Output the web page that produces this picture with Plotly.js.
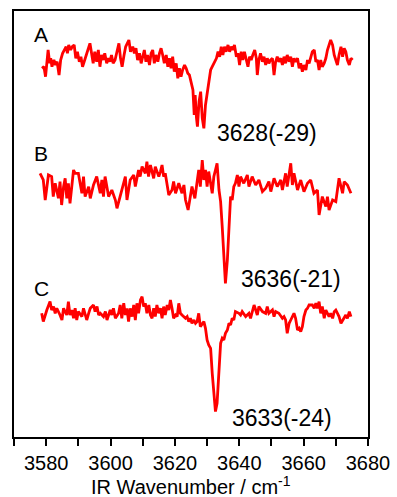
<!DOCTYPE html>
<html>
<head>
<meta charset="utf-8">
<script src="https://cdn.plot.ly/plotly-3.0.1.min.js"></script>
<style>html,body{margin:0;padding:0;background:#fff;}#chart{width:397px;height:497px;}</style>
</head>
<body>
<div id="chart"></div>
<script>
// Spectrum A (wavenumber / cm-1, relative intensity)
const wnA = [3578.7,3579.3,3579.8,3580.3,3580.6,3581.1,3581.4,3581.8,3582.4,3582.9,3583.4,3584.0,3584.5,3585.1,3585.6,3586.2,3586.6,3587.0,3587.6,3588.1,3588.7,3589.2,3589.7,3590.3,3590.8,3591.3,3591.8,3592.3,3593.1,3593.6,3594.1,3594.6,3595.1,3595.7,3596.2,3596.7,3597.2,3597.7,3598.2,3598.8,3599.3,3599.8,3600.3,3600.8,3601.4,3602.1,3602.6,3603.1,3603.6,3604.2,3604.7,3605.2,3605.7,3606.2,3606.9,3607.4,3607.9,3608.4,3609.0,3609.5,3610.0,3610.5,3611.0,3611.5,3612.1,3612.6,3613.1,3613.6,3614.1,3614.7,3615.2,3615.7,3616.2,3616.7,3617.3,3617.8,3618.3,3618.8,3619.3,3619.8,3620.4,3620.9,3621.4,3621.9,3622.4,3623.0,3623.5,3624.0,3624.5,3625.0,3625.6,3626.0,3626.3,3626.7,3627.0,3627.5,3628.0,3628.5,3629.0,3629.5,3630.0,3630.5,3631.1,3631.6,3632.4,3632.9,3633.4,3633.9,3634.4,3634.9,3635.4,3635.9,3636.5,3637.0,3637.5,3638.0,3638.5,3639.1,3639.6,3640.1,3640.6,3641.1,3641.6,3642.2,3642.7,3643.2,3643.7,3644.2,3644.8,3645.3,3645.6,3646.1,3646.6,3647.2,3647.7,3648.2,3648.7,3649.2,3649.7,3650.3,3650.8,3651.3,3651.8,3652.3,3652.9,3653.4,3653.9,3654.4,3654.9,3655.5,3656.0,3656.5,3657.0,3657.5,3658.1,3658.6,3659.1,3659.6,3660.1,3660.7,3661.2,3661.7,3662.2,3662.7,3663.3,3663.8,3664.3,3664.8,3665.3,3665.8,3666.4,3666.9,3667.4,3667.9,3668.4,3669.0,3669.5,3670.0,3670.5,3671.0,3671.6,3672.1,3672.6,3673.1,3673.6,3674.2,3674.7,3675.2];
const intA = [-8.3,-6.7,-16.7,6.7,10,-3.3,1.7,-6.7,0,-5,-1.7,-15,0,6.7,10,13.3,6.7,15,10,13.3,15,1.7,8.3,-1.7,3.3,-6.7,-1.7,3.3,10,16.7,6.7,-3.3,8.3,-1.7,10,-6.7,5,0,6.7,-3.3,1.7,-1.7,5,-3.3,0,10,16.7,1.7,-6.7,5,13.3,16.7,20,8.3,13.3,6.7,11.7,0,6.7,-3.3,5,10,-1.7,5,-5,6.7,10,-3.3,5,-1.7,6.7,11.7,5,-3.3,5,-6.7,1.7,-8.3,3.3,-11.7,-3.3,-18.3,-8.3,-16.7,-10,-5,-8.3,-13.3,-15,-21.7,-30,-55,-35,-58,-66.7,-41.7,-31.7,-58,-68.3,-45,-35,-23.3,-10,-6.7,-1.7,1.7,8.3,3.3,13.3,5,13.3,8.3,15,8.3,13.3,10,15,3.3,6.7,-5,8.3,0,8.3,0,-6.7,3.3,0,5,10,1.7,-15,0,6.7,-1.7,3.3,-5,1.7,-3.3,0,1.7,-15,-1.7,3.3,-1.7,1.7,-5,3.3,-3.3,5,-1.7,3.3,-6.7,1.7,-1.7,1.7,-8.3,-3.3,-11.7,-5,-10,0,-3.3,1.7,8.3,10,-1.7,0,-10,0,-6.7,-3.3,1.7,10,15,20,15,5,0,-5,5,13.3,3.3,11.7,8.3,0,-5,1.7,0];

// Spectrum B
const wnB = [3578.1,3579.1,3579.7,3580.7,3581.7,3582.2,3582.8,3583.8,3584.3,3584.8,3585.4,3585.9,3586.4,3586.9,3587.4,3588.0,3588.5,3589.0,3590.0,3591.1,3591.6,3592.1,3593.2,3593.7,3594.7,3595.7,3596.8,3597.3,3597.8,3598.3,3599.4,3600.4,3601.5,3602.0,3603.0,3604.1,3604.6,3605.1,3606.1,3607.2,3607.7,3608.7,3609.2,3609.8,3610.8,3611.3,3611.8,3612.4,3613.4,3613.9,3615.0,3615.5,3616.0,3616.5,3617.0,3618.1,3619.1,3619.6,3620.2,3621.2,3622.2,3622.8,3623.3,3624.1,3624.8,3625.3,3626.2,3626.9,3627.4,3627.9,3628.5,3629.0,3629.5,3630.0,3630.5,3631.6,3632.1,3632.6,3633.1,3633.7,3634.2,3634.7,3635.2,3635.7,3636.3,3636.8,3637.3,3637.8,3638.3,3638.8,3639.4,3639.9,3640.4,3641.4,3642.5,3643.0,3644.0,3645.1,3646.1,3647.2,3648.2,3649.2,3649.8,3650.8,3651.8,3652.9,3653.4,3654.4,3654.9,3656.0,3656.5,3657.0,3658.1,3659.1,3660.1,3661.2,3662.2,3663.2,3664.3,3664.8,3665.8,3666.9,3667.4,3667.9,3669.0,3670.0,3670.5,3671.0,3672.1,3672.6,3673.6,3674.7];
const intB = [15,8.3,-11.7,13.3,11.7,-8.3,5,-10,6.7,-16.7,1.7,10,-10,5,-15,1.7,18.3,15,15,-5,11.7,-8.3,1.7,-10,3.3,11.7,-5,8.3,-8.3,11.7,-8.3,-1.7,-11.7,-20,-8.3,3.3,11.7,-11.7,8.3,13.3,1.7,18.3,11.7,21.7,15,26.7,11.7,23.3,10,21.7,11.7,16.7,23.3,11.7,15,-6.7,-1.7,6.7,-5,5,-5,3.3,-11.7,-21.7,-5,1.7,-10,10,18.3,1.7,28.3,8.3,18.3,1.7,16.7,-5,11.7,18.3,25,-1.7,-13.3,-38.3,-71.7,-95,-71.7,-31.7,-8.3,-11.7,1.7,5,13.3,1.7,11.7,5,13.3,1.7,11.7,3.3,8.3,-3.3,0,6.7,-3.3,10,1.7,8.3,-1.7,15,1.7,25,3.3,15,-1.7,8.3,-3.3,5,8.3,-5,-1.7,-26.7,-8.3,-18.3,-8.3,-21.7,-11.7,-13.3,-1.7,10,-5,6.7,3.3,-5];

// Spectrum C
const wnC = [3578.6,3579.1,3580.2,3581.2,3581.7,3582.3,3582.8,3583.3,3584.3,3584.9,3585.4,3586.4,3586.9,3587.4,3588.0,3588.5,3589.0,3589.5,3590.0,3591.1,3591.6,3592.6,3593.2,3593.7,3594.7,3595.2,3595.8,3596.3,3596.8,3597.8,3598.4,3598.9,3599.9,3600.4,3600.9,3601.5,3602.5,3603.0,3603.5,3604.1,3604.6,3605.1,3605.6,3606.1,3606.7,3607.2,3607.7,3608.2,3608.7,3609.3,3609.8,3610.3,3610.8,3611.3,3611.9,3612.4,3612.9,3613.4,3613.9,3614.4,3615.0,3615.5,3616.0,3616.5,3617.0,3617.6,3618.1,3618.6,3619.1,3619.6,3620.2,3620.7,3621.2,3621.7,3622.2,3623.3,3623.8,3624.3,3624.8,3625.3,3625.9,3626.4,3626.9,3627.4,3627.9,3628.5,3629.0,3629.5,3630.0,3630.5,3631.1,3631.6,3632.1,3632.6,3633.1,3633.7,3634.2,3634.7,3635.2,3635.7,3636.3,3636.8,3637.3,3637.8,3638.3,3638.8,3639.9,3640.4,3640.9,3642.0,3643.0,3643.5,3644.6,3645.1,3645.6,3646.1,3647.2,3648.2,3648.7,3649.2,3650.3,3650.8,3651.3,3652.3,3653.4,3653.9,3654.4,3654.9,3655.5,3656.0,3656.5,3657.0,3657.5,3658.1,3658.6,3659.1,3659.6,3660.1,3660.7,3661.2,3661.7,3662.7,3663.3,3663.8,3664.3,3664.8,3665.3,3665.8,3666.4,3666.9,3667.9,3668.4,3669.0,3669.5,3670.0,3670.5,3671.0,3671.6,3672.1,3672.6,3673.1,3673.6,3674.2,3674.7];
const intC = [0,-8.3,3.3,11.7,3.3,6.7,0,5,-1.7,-6.7,5,-1.7,11.7,-1.7,3.3,-5,5,-6.7,1.7,-3.3,5,-6.7,0,5,8.3,1.7,6.7,-1.7,0,-3.3,1.7,-6.7,3.3,-1.7,5,-5,0,8.3,-5,10,-1.7,5,-8.3,5,-3.3,8.3,-6.7,10,0,13.3,16.7,6.7,10,0,8.3,-1.7,-5,5,-3.3,8.3,0,5,-5,6.7,-1.7,8.3,3.3,13.3,5,-5,-1.7,-3.3,10,0,-1.7,-5,-3.3,-8.3,-5,-10,-6.7,-10,-8.3,0,-13.3,-10,-8.3,-15,-26.7,-31.7,-35,-60,-83.3,-98.3,-90,-60,-30,-25,-26.7,-20,-16.7,-10,-11.7,-5,-6.7,1.7,0,-1.7,1.7,-3.3,0,-5,8.3,3.3,-1.7,6.7,1.7,0,6.7,0,3.3,-3.3,1.7,0,-5,-3.3,-6.7,-20,-10,-6.7,-3.3,0,-5,-16.7,-15,-18.3,-13.3,-3.3,3.3,5,8.3,8.3,5,10,5,11.7,0,6.7,-5,3.3,-3.3,0,-5,1.7,3.3,0,-3.3,-10,-6.7,-3.3,-1.7,-5,1.7,-3.3];

const offsets = [377, 248.7, 123.7];
const traceLetters = ['A', 'B', 'C'];
const peakLabels = ['3628(-29)', '3636(-21)', '3633(-24)'];
const tickVals = [3570,3580,3590,3600,3610,3620,3630,3640,3650,3660,3670,3680];
const tickText = ['','3580','','3600','','3620','','3640','','3660','','3680'];
const xTitle = 'IR Wavenumber / cm<sup>-1</sup>';

const series = [[wnA, intA], [wnB, intB], [wnC, intC]];
const traces = series.map(function (s, i) {
  return {
    x: s[0],
    y: s[1].map(function (v) { return v + offsets[i]; }),
    type: 'scatter', mode: 'lines',
    line: {color: '#ff0000', width: 2.8},
    hoverinfo: 'skip', showlegend: false
  };
});

const font = 'Liberation Sans, Arial, Helvetica, sans-serif';
const letterPos = [[0.051, 0.945], [0.051, 0.6655], [0.051, 0.3486]];
const peakPos = [[3632.6, 304.5], [3639.8, 158], [3637.0, 19.5]];
const annotations = [];
traceLetters.forEach(function (t, i) {
  annotations.push({text: t, xref: 'paper', yref: 'paper', x: letterPos[i][0], y: letterPos[i][1],
    xanchor: 'left', yanchor: 'middle', showarrow: false, font: {family: font, size: 21, color: '#000'}});
});
peakLabels.forEach(function (t, i) {
  annotations.push({text: t, xref: 'x', yref: 'y', x: peakPos[i][0], y: peakPos[i][1],
    xanchor: 'left', yanchor: 'middle', showarrow: false, font: {family: font, size: 23, color: '#000'}});
});
annotations.push({text: xTitle, xref: 'paper', yref: 'paper', x: 0.5, y: -0.115,
  xanchor: 'center', yanchor: 'middle', showarrow: false, borderpad: 0,
  font: {family: font, size: 20, color: '#000'}});

const layout = {
  width: 397, height: 497,
  margin: {l: 14, r: 29, t: 11, b: 60, pad: 0},
  paper_bgcolor: '#fff', plot_bgcolor: '#fff',
  font: {family: font, color: '#000'},
  xaxis: {
    range: [3570, 3680], showgrid: false, zeroline: false,
    showline: true, mirror: true, linecolor: '#000', linewidth: 2,
    ticks: 'outside', ticklen: 7, tickwidth: 2, tickcolor: '#000',
    tickmode: 'array', tickvals: tickVals, ticktext: tickText,
    tickfont: {family: font, size: 20, color: '#000'}
  },
  yaxis: {
    range: [0, 426], showgrid: false, zeroline: false, showticklabels: false, ticks: '',
    showline: true, mirror: true, linecolor: '#000', linewidth: 2
  },
  annotations: annotations
};

Plotly.newPlot('chart', traces, layout, {staticPlot: true, displayModeBar: false});
</script>
</body>
</html>
